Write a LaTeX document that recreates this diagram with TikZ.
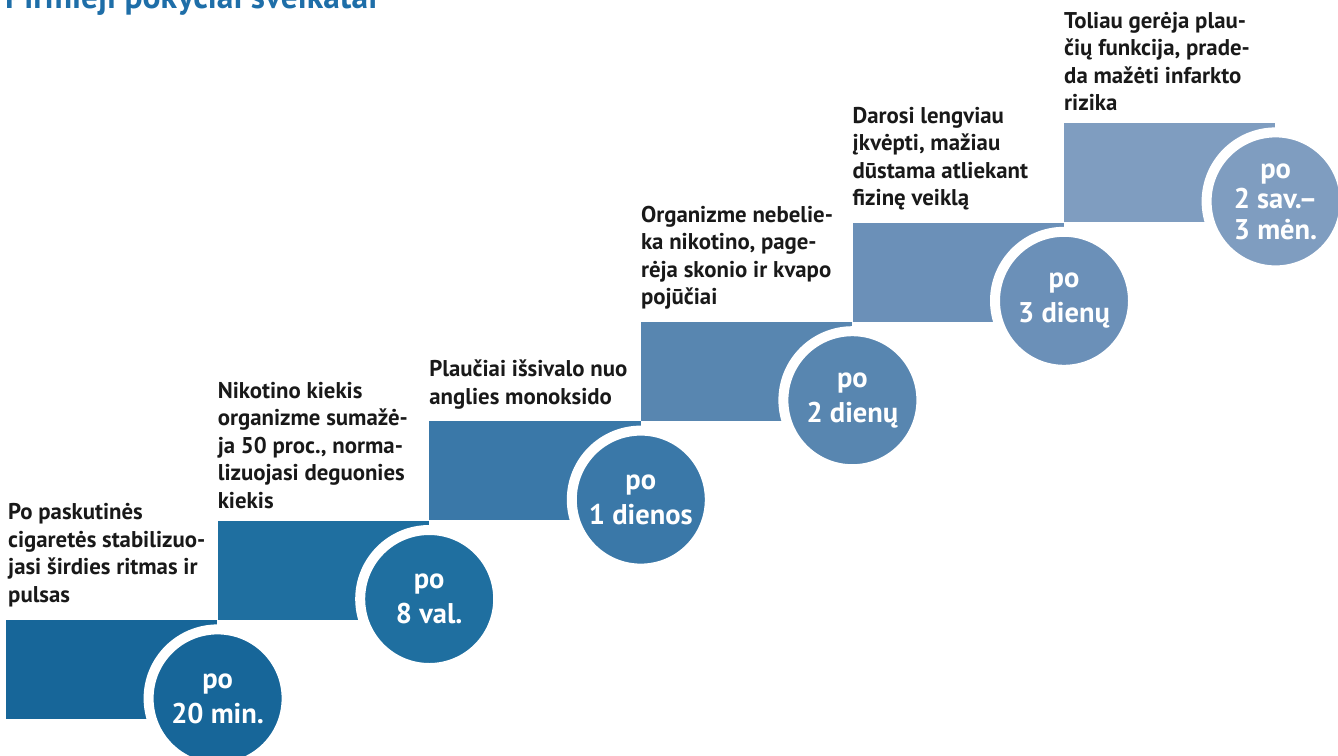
\documentclass[tikz,border=0pt]{standalone}
\usepackage{fontspec}
\setmainfont{PT Sans}
\usetikzlibrary{positioning}

\definecolor{blue1}{RGB}{23,102,153}
\definecolor{blue2}{RGB}{31,111,160}
\definecolor{blue3}{RGB}{58,120,168}
\definecolor{blue4}{RGB}{88,134,176}
\definecolor{blue5}{RGB}{107,144,184}
\definecolor{blue6}{RGB}{127,157,192}
\definecolor{titleblue}{RGB}{30,110,168}

\tikzset{
  stepbox/.style={rectangle, inner sep=0pt, minimum width=211.2pt, minimum height=99pt},
  timedot/.style={circle, draw=white, line width=10pt, minimum size=138pt, inner sep=0pt,
    text=white, align=center, font=\fontsize{28.5}{35}\selectfont\bfseries},
  steptext/.style={anchor=south west, inner sep=0pt, align=left, text=black!90,
    font=\fontsize{22.8}{27.5}\selectfont\bfseries},
}

\begin{document}
\begin{tikzpicture}[x=1pt,y=-1pt]
        \useasboundingbox (0,0) rectangle (1338,755);

        % title, cut at the top edge
        \node[anchor=base west, inner sep=0pt, text=titleblue, font=\fontsize{33.5}{40}\selectfont\bfseries] (title) at (5,8) {Pirmieji pokyčiai sveikatai};

        % steps
        \node[stepbox, fill=blue1, anchor=north west] (step1) at (6,620) {};
        \node[stepbox, fill=blue2, anchor=south west] (step2) at (step1.north east) {};
        \node[stepbox, fill=blue3, anchor=south west] (step3) at (step2.north east) {};
        \node[stepbox, fill=blue4, anchor=south west] (step4) at (step3.north east) {};
        \node[stepbox, fill=blue5, anchor=south west] (step5) at (step4.north east) {};
        \node[stepbox, fill=blue6, anchor=south west] (step6) at (step5.north east) {};

        % time circles
        \node[timedot, fill=blue1] (time1) at ([yshift=21pt]step1.south east) {po\\20 min.};
        \node[timedot, fill=blue2] (time2) at ([yshift=21pt]step2.south east) {po\\8 val.};
        \node[timedot, fill=blue3] (time3) at ([yshift=21pt]step3.south east) {po\\1 dienos};
        \node[timedot, fill=blue4] (time4) at ([yshift=21pt]step4.south east) {po\\2 dienų};
        \node[timedot, fill=blue5] (time5) at ([yshift=21pt]step5.south east) {po\\3 dienų};
        \node[timedot, fill=blue6, font=\fontsize{28.5}{30.5}\selectfont\bfseries] (time6) at ([yshift=21pt]step6.south east) {po\\2 sav.–\\3 mėn.};

        % texts above the steps
        \node[steptext] (text1) at ([xshift=2pt,yshift=13pt]step1.north west) {Po paskutinės\\cigaretės stabilizuo-\\jasi širdies ritmas ir\\pulsas};
        \node[steptext] (text2) at ([yshift=12pt]step2.north west) {Nikotino kiekis\\organizme sumažė-\\ja 50 proc., norma-\\lizuojasi deguonies\\kiekis};
        \node[steptext] (text3) at ([yshift=12pt]step3.north west) {Plaučiai išsivalo nuo\\anglies monoksido};
        \node[steptext] (text4) at ([yshift=12pt]step4.north west) {Organizme nebelie-\\ka nikotino, page-\\rėja skonio ir kvapo\\pojūčiai};
        \node[steptext] (text5) at ([yshift=12pt]step5.north west) {Darosi lengviau\\įkvėpti, mažiau\\dūstama atliekant\\fizinę veiklą};
        \node[steptext] (text6) at ([yshift=12pt]step6.north west) {Toliau gerėja plau-\\čių funkcija, prade-\\da mažėti infarkto\\rizika};

    \end{tikzpicture}
\end{document}
